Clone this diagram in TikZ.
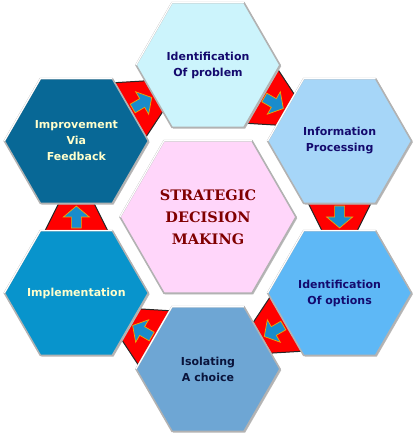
\documentclass[tikz,border=0pt]{standalone}
\usepackage{fontspec}
\setmainfont{DejaVu Sans}
\newfontfamily\corefont{DejaVu Serif}
\usetikzlibrary{shapes.geometric,calc,backgrounds,shadows}

\definecolor{corefill}{RGB}{255,214,250}
\definecolor{probfill}{RGB}{204,244,252}
\definecolor{infofill}{RGB}{166,214,248}
\definecolor{optsfill}{RGB}{94,184,246}
\definecolor{choicefill}{RGB}{110,166,212}
\definecolor{implfill}{RGB}{8,148,204}
\definecolor{feedfill}{RGB}{8,104,150}
\definecolor{coretext}{RGB}{128,0,0}
\definecolor{navytext}{RGB}{20,10,110}
\definecolor{choicetext}{RGB}{10,20,60}
\definecolor{creamtext}{RGB}{255,255,204}
\definecolor{arrowblue}{RGB}{26,140,204}
\definecolor{arroworange}{RGB}{240,168,0}

\tikzset{
  hexa/.style={regular polygon, regular polygon sides=6, minimum size=144pt,
    inner sep=0pt, outer sep=0pt, draw=gray!60, line width=1.6pt,
    drop shadow={shadow xshift=1.2pt, shadow yshift=-1.2pt, fill=gray!55, opacity=1}},
  hexcore/.style={hexa, minimum size=176pt},
  hextext/.style={align=center, inner sep=0pt, font=\bfseries\fontsize{11}{16}\selectfont},
  coretext/.style={hextext, text=coretext, font=\corefont\bfseries\fontsize{14.5}{22}\selectfont},
  gapfill/.style={fill=red, draw=black!85, line width=1pt, line join=round},
  flowarrow/.style={fill=arrowblue, draw=arroworange, line width=0.7pt, line join=miter}
}

\begin{document}
\begin{tikzpicture}[x=1pt,y=1pt]
  \useasboundingbox (-208,-217) rectangle (208,217);
  %% hexagons
  \node[hexcore, fill=corefill,
    label={[coretext]center:STRATEGIC\\DECISION\\MAKING}] (core) at (0,0) {};
  \node[hexa, fill=probfill,
    label={[hextext, text=navytext]center:Identification\\Of problem}] (prob) at (90:152) {};
  \node[hexa, fill=infofill,
    label={[hextext, text=navytext]center:Information\\Processing}] (info) at (30:152) {};
  \node[hexa, fill=optsfill,
    label={[hextext, text=navytext]center:Identification\\Of options}] (opts) at (-30:152) {};
  \node[hexa, fill=choicefill,
    label={[hextext, text=choicetext]center:Isolating\\A choice}] (choice) at (-90:152) {};
  \node[hexa, fill=implfill,
    label={[hextext, text=creamtext]center:Implementation}] (impl) at (210:152) {};
  \node[hexa, fill=feedfill,
    label={[hextext, text=creamtext]center:Improvement\\Via\\Feedback}] (feed) at (150:152) {};
  %% bevel highlight
  \foreach \n in {core,prob,info,opts,choice,impl,feed}
    \draw[white, line width=1.2pt, line join=round] (\n.180) -- (\n.120) -- (\n.60);
  %% connectors
  \begin{scope}[on background layer]
    \foreach \src/\dst/\ang in {prob/info/-30, info/opts/-90, opts/choice/-150,
                               choice/impl/150, impl/feed/90, feed/prob/30}
    {
      \begin{scope}[shift={($(\src)!0.5!(\dst)$)}, rotate=\ang]
        \draw[gapfill] (-15,-32) -- (15,-17) -- (15,17) -- (-15,32) -- cycle;
        \draw[flowarrow] (-11,-5) -- (0,-5) -- (0,-13) -- (11,0) -- (0,13) -- (0,5) -- (-11,5) -- cycle;
      \end{scope}
    }
  \end{scope}
\end{tikzpicture}
\end{document}
